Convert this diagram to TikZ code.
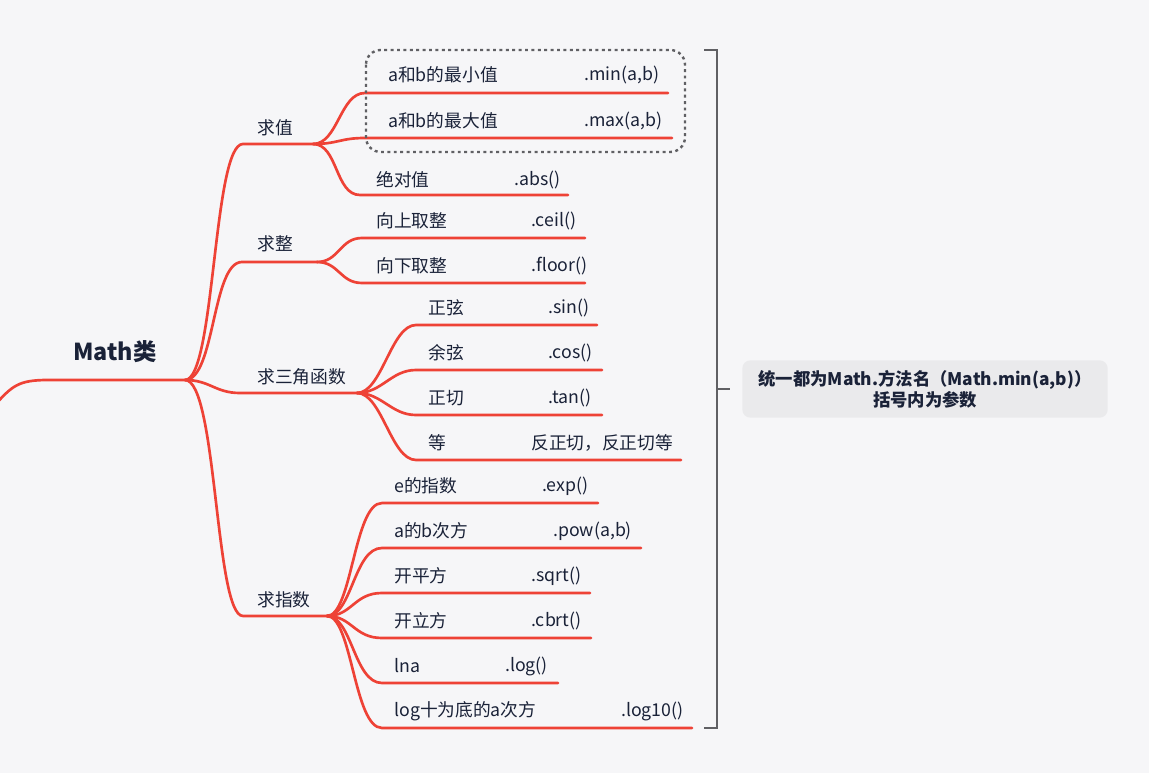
\documentclass[tikz,border=0pt]{standalone}
\usepackage{fontspec}
\setmainfont{Noto Sans CJK SC}
\usetikzlibrary{positioning}
\definecolor{paper}{RGB}{246,246,248}
\definecolor{mapred}{RGB}{238,66,54}
\definecolor{ink}{RGB}{26,34,56}
\definecolor{frame}{RGB}{96,96,100}
\definecolor{notefill}{RGB}{234,234,236}

\begin{document}
\begin{tikzpicture}[x=0.75pt,y=-0.75pt]
    % Define styles
    \tikzstyle{branch} = [draw=mapred, line width=2pt, line cap=round]
    \tikzstyle{topic} = [anchor=west, inner sep=0pt, text=ink, font=\fontsize{13.3}{15}\selectfont]
    \tikzstyle{leaf} = [anchor=west, inner sep=0pt, text=ink, font=\fontsize{13.3}{15}\selectfont]
    \tikzstyle{root} = [inner sep=0pt, text=ink, font=\fontsize{17.5}{19}\selectfont\bfseries]
    \tikzstyle{brace} = [draw=frame, line width=1.6pt]
    \tikzstyle{note} = [fill=notefill, rounded corners=6pt, align=center, text=ink,
                        minimum width=274pt, minimum height=43pt, inner sep=0pt,
                        font=\fontsize{13}{15.5}\selectfont\bfseries]

    % Canvas
    \fill [paper] (0,0) rectangle (1149,773);
    \useasboundingbox (0,0) rectangle (1149,773);

    % Root
    \node [root] (math) at (115,352) {Math类};
    \coordinate (math-in) at (-6,406);
    \coordinate (math-s) at (48,380);
    \coordinate (math-e) at (185,380);
    \path [branch] (math-in) .. controls +(18,-20) and +(-30,0) .. (math-s) -- (math-e);

    % Main topics
    \node [topic] (val) at (257,128) {求值};
    \coordinate (val-s) at (243,144);
    \coordinate (val-e) at (313,144);
    \path [branch] (math-e) .. controls +(30,0) and +(-30,0) .. (val-s) -- (val-e);

    \node [topic] (int) at (257,244) {求整};
    \coordinate (int-s) at (242,262);
    \coordinate (int-e) at (317,262);
    \path [branch] (math-e) .. controls +(30,0) and +(-30,0) .. (int-s) -- (int-e);

    \node [topic] (trig) at (257,377) {求三角函数};
    \coordinate (trig-s) at (240,393);
    \coordinate (trig-e) at (357,393);
    \path [branch] (math-e) .. controls +(25,0) and +(-25,0) .. (trig-s) -- (trig-e);

    \node [topic] (pow) at (257,600) {求指数};
    \coordinate (pow-s) at (243,616);
    \coordinate (pow-e) at (327,616);
    \path [branch] (math-e) .. controls +(32,0) and +(-28,0) .. (pow-s) -- (pow-e);

    % Values
    \node [leaf] (min) at (388,75) {a和b的最小值};
    \node [leaf] (min-fn) at (584,75) {.min(a,b)};
    \coordinate (min-s) at (365,93);
    \coordinate (min-e) at (668,93);
    \path [branch] (val-e) .. controls +(25,0) and +(-25,0) .. (min-s) -- (min-e);

    \node [leaf] (max) at (388,121) {a和b的最大值};
    \node [leaf] (max-fn) at (584,121) {.max(a,b)};
    \coordinate (max-s) at (365,138);
    \coordinate (max-e) at (672,138);
    \path [branch] (val-e) .. controls +(25,0) and +(-25,0) .. (max-s) -- (max-e);

    \node [leaf] (abs) at (376,180) {绝对值};
    \node [leaf] (abs-fn) at (514,180) {.abs()};
    \coordinate (abs-s) at (360,195);
    \coordinate (abs-e) at (568,195);
    \path [branch] (val-e) .. controls +(25,0) and +(-25,0) .. (abs-s) -- (abs-e);

    \draw [frame, line width=1.8pt, dash pattern=on 2.2pt off 2.6pt, rounded corners=11pt]
        (366,50) rectangle (685,152);

    % Rounding
    \node [leaf] (ceil) at (376,221) {向上取整};
    \node [leaf] (ceil-fn) at (531,221) {.ceil()};
    \coordinate (ceil-s) at (362,238);
    \coordinate (ceil-e) at (585,238);
    \path [branch] (int-e) .. controls +(22,0) and +(-22,0) .. (ceil-s) -- (ceil-e);

    \node [leaf] (floor) at (376,266) {向下取整};
    \node [leaf] (floor-fn) at (531,266) {.floor()};
    \coordinate (floor-s) at (362,283);
    \coordinate (floor-e) at (585,283);
    \path [branch] (int-e) .. controls +(22,0) and +(-22,0) .. (floor-s) -- (floor-e);

    % Trigonometry
    \node [leaf] (sin) at (428,308) {正弦};
    \node [leaf] (sin-fn) at (548,308) {.sin()};
    \coordinate (sin-s) at (416,325);
    \coordinate (sin-e) at (597,325);
    \path [branch] (trig-e) .. controls +(25,0) and +(-25,0) .. (sin-s) -- (sin-e);

    \node [leaf] (cos) at (428,353) {余弦};
    \node [leaf] (cos-fn) at (548,353) {.cos()};
    \coordinate (cos-s) at (416,370);
    \coordinate (cos-e) at (602,370);
    \path [branch] (trig-e) .. controls +(25,0) and +(-25,0) .. (cos-s) -- (cos-e);

    \node [leaf] (tan) at (428,398) {正切};
    \node [leaf] (tan-fn) at (548,398) {.tan()};
    \coordinate (tan-s) at (416,415);
    \coordinate (tan-e) at (602,415);
    \path [branch] (trig-e) .. controls +(25,0) and +(-25,0) .. (tan-s) -- (tan-e);

    \node [leaf] (etc) at (428,443) {等};
    \node [leaf] (etc-fn) at (531,443) {反正切，反正切等};
    \coordinate (etc-s) at (416,460);
    \coordinate (etc-e) at (681,460);
    \path [branch] (trig-e) .. controls +(25,0) and +(-25,0) .. (etc-s) -- (etc-e);

    % Powers
    \node [leaf] (exp) at (394,486) {e的指数};
    \node [leaf] (exp-fn) at (542,486) {.exp()};
    \coordinate (exp-s) at (382,503);
    \coordinate (exp-e) at (598,503);
    \path [branch] (pow-e) .. controls +(25,0) and +(-28,0) .. (exp-s) -- (exp-e);

    \node [leaf] (apb) at (394,531) {a的b次方};
    \node [leaf] (apb-fn) at (553,531) {.pow(a,b)};
    \coordinate (apb-s) at (382,548);
    \coordinate (apb-e) at (641,548);
    \path [branch] (pow-e) .. controls +(25,0) and +(-28,0) .. (apb-s) -- (apb-e);

    \node [leaf] (sqrt) at (394,576) {开平方};
    \node [leaf] (sqrt-fn) at (531,576) {.sqrt()};
    \coordinate (sqrt-s) at (382,593);
    \coordinate (sqrt-e) at (590,593);
    \path [branch] (pow-e) .. controls +(25,0) and +(-28,0) .. (sqrt-s) -- (sqrt-e);

    \node [leaf] (cbrt) at (394,621) {开立方};
    \node [leaf] (cbrt-fn) at (531,621) {.cbrt()};
    \coordinate (cbrt-s) at (382,638);
    \coordinate (cbrt-e) at (591,638);
    \path [branch] (pow-e) .. controls +(25,0) and +(-28,0) .. (cbrt-s) -- (cbrt-e);

    \node [leaf] (lna) at (394,666) {lna};
    \node [leaf] (lna-fn) at (505,666) {.log()};
    \coordinate (lna-s) at (382,683);
    \coordinate (lna-e) at (558,683);
    \path [branch] (pow-e) .. controls +(25,0) and +(-28,0) .. (lna-s) -- (lna-e);

    \node [leaf] (lg) at (394,711) {log十为底的a次方};
    \node [leaf] (lg-fn) at (621,711) {.log10()};
    \coordinate (lg-s) at (382,728);
    \coordinate (lg-e) at (692,728);
    \path [branch] (pow-e) .. controls +(25,0) and +(-28,0) .. (lg-s) -- (lg-e);

    % Summary bracket
    \coordinate (brace-top) at (704,50);
    \coordinate (brace-bot) at (704,728);
    \coordinate (brace-mid) at (717,389);
    \node [note] (summary) at (925,389) {统一都为Math.方法名（Math.min(a,b)）\\括号内为参数};
    \draw [brace] (brace-top) -- ++(13,0) |- (brace-bot);
    \draw [brace] (brace-mid) -- ++(13,0);
\end{tikzpicture}
\end{document}
